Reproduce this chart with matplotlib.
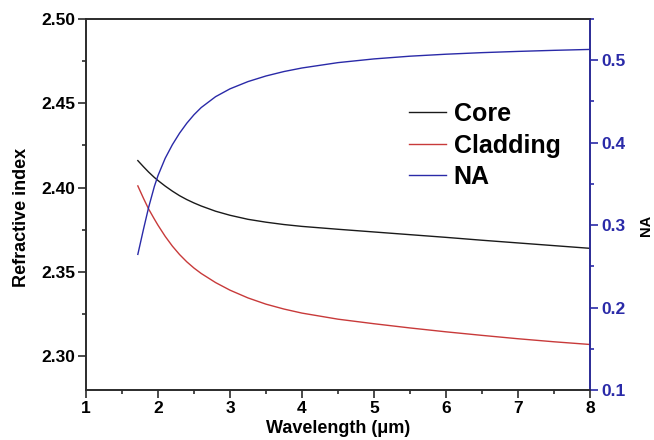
import matplotlib
matplotlib.use("Agg")
import matplotlib.pyplot as plt
from matplotlib.ticker import MultipleLocator, FormatStrFormatter

plt.rcParams["font.family"] = ["Liberation Sans", "DejaVu Sans"]
plt.rcParams["font.weight"] = "bold"

# values
wavelength = [1.72, 1.8, 1.87, 1.95, 2.0, 2.1, 2.2, 2.3, 2.4, 2.5, 2.6, 2.8, 3.0,
              3.25, 3.5, 3.75, 4.0, 4.5, 5.0, 5.5, 6.0, 6.5, 7.0, 7.5, 8.0]
n_core = [2.4160, 2.4123, 2.4092, 2.4060, 2.4042, 2.4009, 2.3979, 2.3952, 2.3929,
          2.3909, 2.3891, 2.3860, 2.3836, 2.3812, 2.3795, 2.3781, 2.3770, 2.3753,
          2.3737, 2.3721, 2.3705, 2.3688, 2.3672, 2.3656, 2.3640]
n_clad = [2.4010, 2.3935, 2.3873, 2.3813, 2.3777, 2.3711, 2.3653, 2.3603, 2.3560,
          2.3523, 2.3491, 2.3437, 2.3392, 2.3346, 2.3309, 2.3280, 2.3256, 2.3220,
          2.3193, 2.3168, 2.3145, 2.3124, 2.3104, 2.3086, 2.3070]
na = [0.2645, 0.2955, 0.3215, 0.3470, 0.3600, 0.3810, 0.3975, 0.4115, 0.4235,
      0.4338, 0.4425, 0.4557, 0.4652, 0.4740, 0.4808, 0.4862, 0.4905, 0.4970,
      0.5015, 0.5048, 0.5072, 0.5091, 0.5106, 0.5119, 0.5130]

BLUE = "#2a2aa8"
RED = "#c83a3a"
INK = "#1a1a1a"
SPINE = "#2b2b2b"

fig = plt.figure(figsize=(6.54, 4.40), dpi=100)
ax = fig.add_axes([0.1315, 0.1136, 0.7705, 0.8434])
ax2 = ax.twinx()

l1, = ax.plot(wavelength, n_core, color=INK, lw=1.0, label="Core")
l2, = ax.plot(wavelength, n_clad, color=RED, lw=1.0, label="Cladding")
l3, = ax2.plot(wavelength, na, color=BLUE, lw=1.0, label="NA")

ax.set_xlim(1, 8)
ax.set_ylim(2.28, 2.50)
ax2.set_ylim(0.1, 0.55)
ax.xaxis.set_major_locator(MultipleLocator(1))
ax.xaxis.set_minor_locator(MultipleLocator(0.5))
ax.yaxis.set_major_locator(MultipleLocator(0.05))
ax.yaxis.set_minor_locator(MultipleLocator(0.025))
ax.yaxis.set_major_formatter(FormatStrFormatter("%.2f"))
ax2.yaxis.set_major_locator(MultipleLocator(0.1))
ax2.yaxis.set_minor_locator(MultipleLocator(0.05))
ax2.yaxis.set_major_formatter(FormatStrFormatter("%.1f"))

for a in (ax, ax2):
    for s in a.spines.values():
        s.set_linewidth(1.2)
        s.set_color(SPINE)
ax2.spines["right"].set_color(BLUE)
ax.tick_params(axis="both", which="major", direction="out", length=5.5, width=1.2,
               labelsize=12.5, colors=SPINE, labelcolor="black", pad=2.5)
ax.tick_params(axis="both", which="minor", direction="out", length=3.2, width=1.2, colors=SPINE)
ax2.tick_params(axis="y", which="major", direction="out", length=5.5, width=1.2,
                labelsize=12.5, colors=BLUE, labelcolor=BLUE, pad=3)
ax2.tick_params(axis="y", which="minor", direction="out", length=3.2, width=1.2, colors=BLUE)
for lab in ax.get_xticklabels() + ax.get_yticklabels() + ax2.get_yticklabels():
    lab.set_fontweight("bold")

ax.set_xlabel("Wavelength (\u03bcm)", fontsize=13, fontweight="bold", labelpad=3)
ax.set_ylabel("Refractive index", fontsize=13, fontweight="bold")
ax.yaxis.set_label_coords(-0.112, 0.466)
ax2.set_ylabel("NA", fontsize=10.5, fontweight="bold")
ax2.yaxis.set_label_coords(1.097, 0.445)

ax.legend(handles=[l1, l2, l3], loc="upper left", bbox_to_anchor=(0.64, 0.776),
          frameon=False, fontsize=18, handlelength=1.48, handletextpad=0.32,
          labelspacing=0.3, borderaxespad=0, borderpad=0)

fig.savefig("out.png", dpi=100)
